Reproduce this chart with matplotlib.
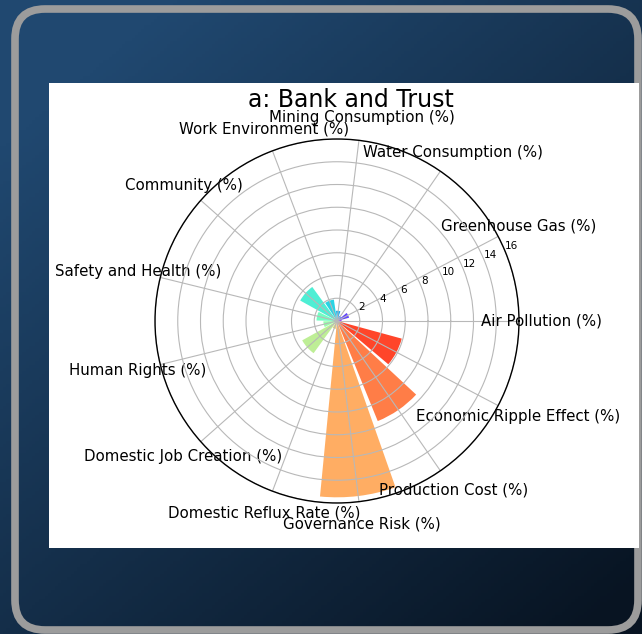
import numpy as np
import matplotlib
matplotlib.use('Agg')
from matplotlib import pyplot as plt
from matplotlib.patches import FancyBboxPatch, Rectangle

# data
categories = ['Air Pollution (%)', 'Greenhouse Gas (%)', 'Water Consumption (%)',
              'Mining Consumption (%)', 'Work Environment (%)', 'Community (%)',
              'Safety and Health (%)', 'Human Rights (%)', 'Domestic Job Creation (%)',
              'Domestic Reflux Rate (%)', 'Governance Risk (%)', 'Production Cost (%)',
              'Economic Ripple Effect (%)']
values = [0.4, 1.1, 0.5, 0.9, 1.9, 3.7, 1.8, 1.2, 3.5, 0.7, 15.5, 9.5, 5.9]
r_ticks = [2, 4, 6, 8, 10, 12, 14, 16]
title = 'a: Bank and Trust'

W, H = 642, 634
fig = plt.figure(figsize=(W / 100, H / 100), dpi=100)

# slide background (dark blue, darker towards bottom right)
bg = fig.add_axes([0, 0, 1, 1])
yy, xx = np.mgrid[0:1:200j, 0:1:200j]
t = np.clip(0.55 * xx + 0.65 * yy - 0.15, 0, 1)
top = np.array([32, 72, 112]) / 255
bot = np.array([8, 20, 34]) / 255
img = top[None, None, :] * (1 - t[..., None]) + bot[None, None, :] * t[..., None]
bg.imshow(img, extent=[0, W, H, 0], aspect='auto')
bg.set_xlim(0, W)
bg.set_ylim(H, 0)
bg.axis('off')

# rounded frame
frame = FancyBboxPatch((15, 9), 623, 621, boxstyle='round,pad=0,rounding_size=30',
                       fc='none', ec='#9c9c9c', lw=5.5)
bg.add_patch(frame)
# white chart area
bg.add_patch(Rectangle((49, 83), 590, 465, fc='white', ec='none'))

# polar chart
cx, cy, rad = 337, 321, 182
ax = fig.add_axes([(cx - rad) / W, (H - cy - rad) / H, 2 * rad / W, 2 * rad / H],
                  projection='polar')
n = len(categories)
theta = np.arange(n) * 2 * np.pi / n
colors = plt.cm.rainbow(theta / (2 * np.pi))
ax.bar(theta, values, width=0.9 * 2 * np.pi / n, color=colors, alpha=0.95)

ax.set_xticks(theta)
ax.set_xticklabels(categories, fontsize=10.8)
ax.tick_params(axis='x', pad=6)
ax.set_ylim(0, 16)
ax.set_yticks(r_ticks)
ax.set_yticklabels([str(v) for v in r_ticks], fontsize=7.5)
ax.set_rlabel_position(22.5)
ax.grid(True, color='#b8b8b8', lw=0.8)
ax.spines['polar'].set_linewidth(1.0)
ax.set_facecolor('white')

fig.text(351 / W, 1 - 100 / H, title, fontsize=17, ha='center', va='center')

fig.savefig('out.png', dpi=100)
